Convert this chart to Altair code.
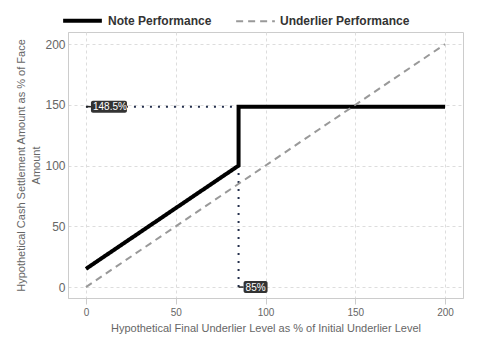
import altair as alt
import pandas as pd

note_x = [0, 85, 85, 200]
note_y = [15, 100, 148.5, 148.5]
under_x = [0, 200]
under_y = [0, 200]
series_names = ["Note Performance", "Underlier Performance"]
cap_level = 148.5
barrier = 85
x_ticks = [0, 50, 100, 150, 200]
y_ticks = [0, 50, 100, 150, 200]

rows = []
for i, (x, y) in enumerate(zip(note_x, note_y)):
    rows.append({"series": series_names[0], "x": x, "y": y, "order": i})
for i, (x, y) in enumerate(zip(under_x, under_y)):
    rows.append({"series": series_names[1], "x": x, "y": y, "order": i})
df = pd.DataFrame(rows)

xs = alt.Scale(domain=[-10, 210], nice=False, zero=False)
ys = alt.Scale(domain=[-9, 210], nice=False, zero=False)

lines = alt.Chart(df).mark_line(strokeCap="butt").encode(
    x=alt.X("x:Q", scale=xs, axis=alt.Axis(values=x_ticks, title="Hypothetical Final Underlier Level as % of Initial Underlier Level",
                                           labelFontSize=10, tickSize=6, labelPadding=3, titlePadding=5)),
    y=alt.Y("y:Q", scale=ys, axis=alt.Axis(values=y_ticks, title=["Hypothetical Cash Settlement Amount as % of Face", "Amount"],
                                           labelFontSize=12, ticks=False, labelPadding=3, titlePadding=3, titleLineHeight=15)),
    order="order:Q",
    color=alt.Color("series:N", scale=alt.Scale(domain=series_names, range=["#000000", "#999999"]),
                    legend=alt.Legend(title=None, orient="none", direction="horizontal", legendX=-7, legendY=-33,
                                      symbolType="stroke", symbolSize=1500,
                                      labelFontWeight="bold", labelFontSize=12, labelColor="#333333",
                                      columnPadding=20, symbolStrokeWidth=4)),
    strokeDash=alt.StrokeDash("series:N", scale=alt.Scale(domain=series_names, range=[[1, 0], [7, 5]]), legend=None),
    strokeWidth=alt.StrokeWidth("series:N", scale=alt.Scale(domain=series_names, range=[4, 2]), legend=None),
)

ref = pd.DataFrame({"cap": [cap_level], "bar": [barrier], "zero": [0]})
dot_color = "#25304d"
hdots = alt.Chart(ref).mark_rule(strokeDash=[2, 6], strokeWidth=2, color=dot_color).encode(
    x=alt.X("zero:Q", scale=xs), x2="bar:Q", y=alt.Y("cap:Q", scale=ys))
vdots = alt.Chart(ref).mark_rule(strokeDash=[2, 6], strokeWidth=2, color=dot_color).encode(
    x=alt.X("bar:Q", scale=xs), y=alt.Y("zero:Q", scale=ys), y2="cap:Q")

def label(xf, yf, txt, w):
    d = pd.DataFrame({"x": [xf], "y": [yf], "t": [txt]})
    base = alt.Chart(d)
    conn = base.mark_rule(color="#222222", strokeWidth=1.5, x2Offset=5).encode(
        x=alt.X("x:Q", scale=xs), x2="x:Q", y=alt.Y("y:Q", scale=ys))
    box = base.mark_rect(color="#333333", width=w, height=12, xOffset=5 + w / 2, cornerRadius=2).encode(
        x=alt.X("x:Q", scale=xs), y=alt.Y("y:Q", scale=ys))
    txtm = base.mark_text(color="white", fontSize=10, align="left", dx=7, dy=0.5, font="Liberation Sans").encode(
        x=alt.X("x:Q", scale=xs), y=alt.Y("y:Q", scale=ys), text="t:N")
    return conn + box + txtm

chart = alt.layer(
    hdots, vdots, lines,
    label(0, cap_level, f"{cap_level}%", 36),
    label(barrier, 0, f"{barrier}%", 24),
).properties(
    width=395, height=266,
    autosize=alt.AutoSizeParams(type="none"),
    padding={"left": 60, "top": 24, "right": 9, "bottom": 52},
).configure(font="Liberation Sans").configure_view(stroke="#cccccc").configure_axis(
    gridColor="#dddddd", gridDash=[3, 3], domainColor="#cccccc", tickColor="#cccccc",
    labelColor="#666666", titleColor="#666666", titleFontSize=11,
    titleFontWeight="normal",
)

chart.save("out.html", embed_options={"renderer": "svg", "actions": False})
